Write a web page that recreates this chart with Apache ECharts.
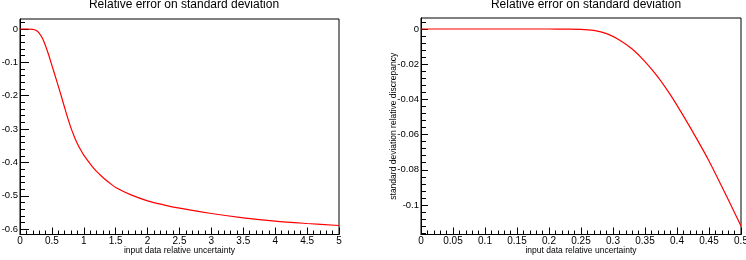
<!DOCTYPE html>
<html>
<head>
<meta charset="utf-8">
<script src="https://cdn.jsdelivr.net/npm/echarts@6/dist/echarts.min.js"></script>
<style>
  html, body { margin: 0; padding: 0; background: #fff; }
  #chart { width: 746px; height: 260px; }
</style>
</head>
<body>
<div id="chart"></div>
<script>
// left panel: input uncertainty 0..5
const leftX = [0, 0.1, 0.2, 0.25, 0.3, 0.35, 0.4, 0.45, 0.5, 0.55, 0.6, 0.65, 0.7, 0.75, 0.8, 0.85, 0.9, 0.95,
  1.0, 1.1, 1.2, 1.3, 1.4, 1.5, 1.75, 2.0, 2.25, 2.5, 3.0, 3.5, 4.0, 4.5, 5.0];
const leftY = [0, 0, -0.001, -0.004, -0.012, -0.027, -0.05, -0.078, -0.109, -0.14, -0.171, -0.203, -0.236, -0.268,
  -0.297, -0.322, -0.344, -0.362, -0.378, -0.404, -0.427, -0.445, -0.461, -0.475, -0.498, -0.515, -0.527, -0.537,
  -0.553, -0.566, -0.576, -0.583, -0.589];

// right panel: input uncertainty 0..0.5
const rightX = [0, 0.05, 0.1, 0.15, 0.2, 0.22, 0.25, 0.27, 0.29, 0.31, 0.33, 0.35, 0.37, 0.39, 0.41, 0.43, 0.45, 0.47, 0.5];
const rightY = [0, 0, 0, 0, 0, -0.0001, -0.0002, -0.0008, -0.0026, -0.0062, -0.0114, -0.0185, -0.0272, -0.0376,
  -0.0494, -0.0619, -0.075, -0.0895, -0.112];

// tick values
const leftYMajor = [0, -0.1, -0.2, -0.3, -0.4, -0.5, -0.6];
const leftYMinor = [0.02, -0.02, -0.04, -0.06, -0.08, -0.12, -0.14, -0.16, -0.18, -0.22, -0.24, -0.26, -0.28,
  -0.32, -0.34, -0.36, -0.38, -0.42, -0.44, -0.46, -0.48, -0.52, -0.54, -0.56, -0.58];
const rightYMajor = [0, -0.02, -0.04, -0.06, -0.08, -0.1];
const rightYMinor = [0.004, -0.004, -0.008, -0.012, -0.016, -0.024, -0.028, -0.032, -0.036,
  -0.044, -0.048, -0.052, -0.056, -0.064, -0.068, -0.072, -0.076,
  -0.084, -0.088, -0.092, -0.096, -0.104, -0.108, -0.112, -0.116];

const titleText = 'Relative error on standard deviation';
const xName = 'input data relative uncertainty';
const yName = 'standard deviation relative discrepancy';

const font = 'Liberation Sans, Arial, sans-serif';
const chart = echarts.init(document.getElementById('chart'));

const xAxisBase = (grid, max, interval) => ({
  type: 'value', gridIndex: grid, min: 0, max, interval,
  name: xName, nameLocation: 'middle', nameGap: 12, nameMoveOverlap: false,
  nameTextStyle: { fontFamily: font, fontSize: 8.5, color: '#000' },
  axisLine: { onZero: false, lineStyle: { color: '#000', width: 1 } },
  axisTick: { inside: true, length: 7, lineStyle: { color: '#000' } },
  minorTick: { show: true, splitNumber: 5, length: 4, lineStyle: { color: '#000' } },
  axisLabel: { margin: 2, fontFamily: font, fontSize: 10, color: '#000' },
  splitLine: { show: false }
});

const yMajor = (grid, min, max, ticks, len) => ({
  type: 'value', gridIndex: grid, min, max, position: 'left',
  name: yName, nameLocation: 'middle', nameGap: 23, nameRotate: 90, nameMoveOverlap: false,
  nameTextStyle: { fontFamily: font, fontSize: 8.5, color: '#000' },
  axisLine: { show: true, lineStyle: { color: '#000', width: 1 } },
  axisTick: { show: true, inside: true, length: len, customValues: ticks, lineStyle: { color: '#000' } },
  axisLabel: { margin: 2, fontFamily: font, fontSize: 9.5, color: '#000', customValues: ticks },
  splitLine: { show: false }
});

const yMinor = (grid, min, max, ticks) => ({
  type: 'value', gridIndex: grid, min, max, position: 'left',
  axisLine: { show: false },
  axisTick: { show: true, inside: true, length: 5, customValues: ticks, lineStyle: { color: '#000' } },
  axisLabel: { show: false },
  splitLine: { show: false }
});

const option = {
  backgroundColor: '#fff',
  animation: false,
  title: [
    { text: titleText, left: 179, top: -6, textAlign: 'center',
      textStyle: { fontFamily: font, fontSize: 12, fontWeight: 'normal', color: '#000' } },
    { text: titleText, left: 581, top: -6, textAlign: 'center',
      textStyle: { fontFamily: font, fontSize: 12, fontWeight: 'normal', color: '#000' } }
  ],
  grid: [
    { left: 20, top: 19, width: 319, height: 215.5, outerBoundsMode: 'none', containLabel: false,
      show: true, borderColor: '#000', borderWidth: 1 },
    { left: 421, top: 18, width: 320, height: 216.5, outerBoundsMode: 'none', containLabel: false,
      show: true, borderColor: '#000', borderWidth: 1 }
  ],
  xAxis: [
    xAxisBase(0, 5, 0.5),
    xAxisBase(1, 0.5, 0.05)
  ],
  yAxis: [
    yMajor(0, -0.616, 0.03, leftYMajor, 9),
    yMinor(0, -0.616, 0.03, leftYMinor),
    yMajor(1, -0.1168, 0.00625, rightYMajor, 7),
    yMinor(1, -0.1168, 0.00625, rightYMinor)
  ],
  series: [
    { type: 'line', xAxisIndex: 0, yAxisIndex: 0, showSymbol: false, smooth: 0.3,
      lineStyle: { color: '#ff0000', width: 1.2 },
      data: leftX.map((x, i) => [x, leftY[i]]) },
    { type: 'line', xAxisIndex: 1, yAxisIndex: 2, showSymbol: false, smooth: 0.3,
      lineStyle: { color: '#ff0000', width: 1.2 },
      data: rightX.map((x, i) => [x, rightY[i]]) }
  ]
};

chart.setOption(option);
</script>
</body>
</html>
